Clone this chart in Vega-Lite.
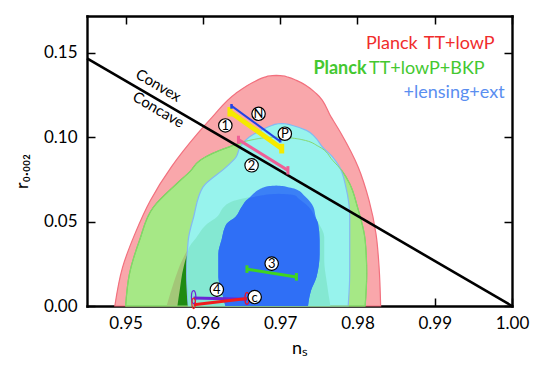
{
  "$schema": "https://vega.github.io/schema/vega-lite/v6.json",
  "width": 425,
  "height": 290,
  "autosize": "none",
  "padding": {"left": 87, "top": 16, "right": 34, "bottom": 63},
  "config": {
    "font": "Lato",
    "view": {"stroke": null},
    "axis": {
      "grid": false, "domainColor": "black", "domainWidth": 2.4, "domainCap": "square",
      "tickColor": "black", "tickWidth": 1.5, "tickSize": -8,
      "labelFont": "Lato", "labelFontSize": 17, "labelColor": "black", "labelFlush": false,
      "titleFont": "Lato", "titleFontSize": 18, "titleFontWeight": "normal", "titleColor": "black",
      "zindex": 1
    }
  },
  "datasets": {
    "red95": [
      {"r": 0, "lo": 0.9486, "hi": 0.9830},
      {"r": 0.0229, "lo": 0.9496, "hi": 0.9828},
      {"r": 0.0427, "lo": 0.9512, "hi": 0.9824},
      {"r": 0.0625, "lo": 0.9532, "hi": 0.9815},
      {"r": 0.0822, "lo": 0.9559, "hi": 0.9801},
      {"r": 0.102, "lo": 0.9593, "hi": 0.9779},
      {"r": 0.1118, "lo": 0.9612, "hi": 0.9766},
      {"r": 0.1257, "lo": 0.9642, "hi": 0.9747},
      {"r": 0.1336, "lo": 0.9670, "hi": 0.9721},
      {"r": 0.1355, "lo": 0.9680, "hi": 0.9710},
      {"r": 0.1362, "lo": 0.9687, "hi": 0.9703},
      {"r": 0.1365, "lo": 0.9695, "hi": 0.9695}
    ],
    "green95": [
      {"r": 0, "lo": 0.9500, "hi": 0.9810},
      {"r": 0.0192, "lo": 0.9505, "hi": 0.9812},
      {"r": 0.0389, "lo": 0.9518, "hi": 0.9810},
      {"r": 0.0586, "lo": 0.9536, "hi": 0.9800},
      {"r": 0.0724, "lo": 0.9566, "hi": 0.9790},
      {"r": 0.0800, "lo": 0.9584, "hi": 0.9780},
      {"r": 0.0862, "lo": 0.9596, "hi": 0.9768},
      {"r": 0.0944, "lo": 0.9635, "hi": 0.9750},
      {"r": 0.0985, "lo": 0.9665, "hi": 0.9728},
      {"r": 0.0995, "lo": 0.9678, "hi": 0.9714},
      {"r": 0.0999, "lo": 0.9688, "hi": 0.9704},
      {"r": 0.1000, "lo": 0.9696, "hi": 0.9696}
    ],
    "olive": [
      {"r": 0, "lo": 0.9553, "hi": 0.9765},
      {"r": 0.015, "lo": 0.9563, "hi": 0.9760},
      {"r": 0.027, "lo": 0.9573, "hi": 0.9757},
      {"r": 0.033, "lo": 0.9580, "hi": 0.9757},
      {"r": 0.0408, "lo": 0.9592, "hi": 0.9757},
      {"r": 0.0488, "lo": 0.9606, "hi": 0.9750},
      {"r": 0.0527, "lo": 0.9618, "hi": 0.9745},
      {"r": 0.0586, "lo": 0.9627, "hi": 0.9737},
      {"r": 0.0606, "lo": 0.9632, "hi": 0.9733},
      {"r": 0.064, "lo": 0.9655, "hi": 0.9723},
      {"r": 0.0655, "lo": 0.9677, "hi": 0.9719},
      {"r": 0.0662, "lo": 0.9686, "hi": 0.9710},
      {"r": 0.0665, "lo": 0.9698, "hi": 0.9698}
    ],
    "green68": [
      {"r": 0, "lo": 0.9567, "hi": 0.9640},
      {"r": 0.0093, "lo": 0.9570, "hi": 0.9640},
      {"r": 0.023, "lo": 0.9575, "hi": 0.9640},
      {"r": 0.033, "lo": 0.9582, "hi": 0.9640},
      {"r": 0.045, "lo": 0.9600, "hi": 0.9630},
      {"r": 0.05, "lo": 0.9615, "hi": 0.9615}
    ],
    "blue95": [
      {"r": 0, "lo": 0.9581, "hi": 0.9788},
      {"r": 0.0192, "lo": 0.9579, "hi": 0.9790},
      {"r": 0.0389, "lo": 0.9581, "hi": 0.9790},
      {"r": 0.0527, "lo": 0.9588, "hi": 0.9790},
      {"r": 0.0704, "lo": 0.9600, "hi": 0.9785},
      {"r": 0.0822, "lo": 0.9630, "hi": 0.9777},
      {"r": 0.0882, "lo": 0.9643, "hi": 0.9768},
      {"r": 0.094, "lo": 0.9648, "hi": 0.9755},
      {"r": 0.100, "lo": 0.9660, "hi": 0.9745},
      {"r": 0.104, "lo": 0.9675, "hi": 0.9734},
      {"r": 0.107, "lo": 0.9690, "hi": 0.9715},
      {"r": 0.1077, "lo": 0.9695, "hi": 0.9709},
      {"r": 0.1079, "lo": 0.9698, "hi": 0.9706},
      {"r": 0.108, "lo": 0.9702, "hi": 0.9702}
    ],
    "mint": [
      {"r": 0, "lo": 0.9581, "hi": 0.9765},
      {"r": 0.015, "lo": 0.9580, "hi": 0.9760},
      {"r": 0.027, "lo": 0.9580, "hi": 0.9757},
      {"r": 0.033, "lo": 0.9581, "hi": 0.9757},
      {"r": 0.0408, "lo": 0.9592, "hi": 0.9757},
      {"r": 0.0488, "lo": 0.9606, "hi": 0.9750},
      {"r": 0.0527, "lo": 0.9618, "hi": 0.9745},
      {"r": 0.0586, "lo": 0.9627, "hi": 0.9737},
      {"r": 0.0606, "lo": 0.9632, "hi": 0.9733},
      {"r": 0.064, "lo": 0.9655, "hi": 0.9723},
      {"r": 0.0655, "lo": 0.9677, "hi": 0.9719},
      {"r": 0.0662, "lo": 0.9686, "hi": 0.9710},
      {"r": 0.0665, "lo": 0.9698, "hi": 0.9698}
    ],
    "blue68": [
      {"r": 0, "lo": 0.9629, "hi": 0.9736},
      {"r": 0.0093, "lo": 0.9624, "hi": 0.9740},
      {"r": 0.0172, "lo": 0.9620, "hi": 0.9747},
      {"r": 0.031, "lo": 0.9620, "hi": 0.9751},
      {"r": 0.0389, "lo": 0.9624, "hi": 0.9751},
      {"r": 0.0488, "lo": 0.9631, "hi": 0.9749},
      {"r": 0.0527, "lo": 0.9642, "hi": 0.9746},
      {"r": 0.0586, "lo": 0.9650, "hi": 0.9743},
      {"r": 0.065, "lo": 0.9662, "hi": 0.9732},
      {"r": 0.0695, "lo": 0.9675, "hi": 0.9718},
      {"r": 0.0705, "lo": 0.9680, "hi": 0.9709},
      {"r": 0.0711, "lo": 0.9686, "hi": 0.9703},
      {"r": 0.0714, "lo": 0.9695, "hi": 0.9695}
    ],
    "blue68x": [
      {"r": 0, "lo": 0.9629, "hi": 0.9736},
      {"r": 0.0093, "lo": 0.9624, "hi": 0.9740},
      {"r": 0.0172, "lo": 0.9620, "hi": 0.9747},
      {"r": 0.031, "lo": 0.9620, "hi": 0.9751},
      {"r": 0.0389, "lo": 0.9624, "hi": 0.9751},
      {"r": 0.0488, "lo": 0.9631, "hi": 0.9749},
      {"r": 0.0527, "lo": 0.9642, "hi": 0.9745},
      {"r": 0.0586, "lo": 0.9650, "hi": 0.9737},
      {"r": 0.064, "lo": 0.9660, "hi": 0.9723},
      {"r": 0.0655, "lo": 0.9677, "hi": 0.9719},
      {"r": 0.0662, "lo": 0.9686, "hi": 0.9710},
      {"r": 0.0665, "lo": 0.9698, "hi": 0.9698}
    ],
    "convex": [
      {"ns": 0.945, "r": 0.14667},
      {"ns": 1.0, "r": 0}
    ],
    "convexLabels": [
      {"ns": 0.95425, "r": 0.1306, "label": "Convex"},
      {"ns": 0.95425, "r": 0.1162, "label": "Concave"}
    ],
    "segYellow": [
      {"model": "1", "x": 0.9635, "y": 0.1150, "x2": 0.9702, "y2": 0.0933}
    ],
    "segN": [
      {"model": "N", "x": 0.9637, "y": 0.1185, "x2": 0.9700, "y2": 0.0975}
    ],
    "segOther": [
      {"model": "2", "x": 0.9646, "y": 0.0985, "x2": 0.9710, "y2": 0.0803},
      {"model": "3", "x": 0.9657, "y": 0.0218, "x2": 0.9721, "y2": 0.0172},
      {"model": "4", "x": 0.9588, "y": 0.0047, "x2": 0.9657, "y2": 0.0040},
      {"model": "C", "x": 0.9588, "y": 0.0008, "x2": 0.9657, "y2": 0.0044}
    ],
    "capsYellow": [
      {"model": "1", "x": 0.9635, "ylo": 0.1122, "yhi": 0.1178},
      {"model": "1", "x": 0.9702, "ylo": 0.0903, "yhi": 0.0960}
    ],
    "capsN": [
      {"model": "N", "x": 0.9637, "ylo": 0.1168, "yhi": 0.1196},
      {"model": "N", "x": 0.9700, "ylo": 0.0968, "yhi": 0.1000}
    ],
    "capsOther": [
      {"model": "2", "x": 0.9646, "ylo": 0.0960, "yhi": 0.1008},
      {"model": "2", "x": 0.9710, "ylo": 0.0779, "yhi": 0.0828},
      {"model": "3", "x": 0.9657, "ylo": 0.0196, "yhi": 0.0241},
      {"model": "3", "x": 0.9721, "ylo": 0.0150, "yhi": 0.0195}
    ],
    "ends": [
      {"model": "4", "x": 0.9588, "y": 0.0053, "end": "a"},
      {"model": "4", "x": 0.9657, "y": 0.0043, "end": "b"},
      {"model": "C", "x": 0.9657, "y": 0.0046, "end": "b"},
      {"model": "C", "x": 0.9588, "y": 0.0016, "end": "c"}
    ],
    "circles": [
      {"ns": 0.9629, "r": 0.1069, "label": "1"},
      {"ns": 0.9672, "r": 0.1138, "label": "N"},
      {"ns": 0.9706, "r": 0.1020, "label": "P"},
      {"ns": 0.9663, "r": 0.0833, "label": "2"},
      {"ns": 0.9689, "r": 0.0251, "label": "3"},
      {"ns": 0.9618, "r": 0.0097, "label": "4"},
      {"ns": 0.9667, "r": 0.0053, "label": "c"}
    ],
    "legendRed": [
      {"x": 0.9878, "y": 0.1523, "label": "Planck"},
      {"x": 0.99775, "y": 0.1523, "label": "TT+lowP"}
    ],
    "legendGreen": [
      {"x": 0.99646, "y": 0.1375, "label": "TT+lowP+BKP"}
    ],
    "legendGreenBold": [
      {"x": 0.98118, "y": 0.1375, "label": "Planck"}
    ],
    "legendBlue": [
      {"x": 0.99904, "y": 0.1233, "label": "+lensing+ext"}
    ]
  },
  "resolve": {"axis": {"x": "independent", "y": "independent"}},
  "layer": [
    {
      "layer": [
        {
          "data": {"name": "red95"},
          "mark": {"type": "area", "orient": "horizontal", "interpolate": "monotone", "fill": "#f9a7ab", "stroke": "#f2707e", "strokeWidth": 1.2},
          "encoding": {
            "y": {"field": "r", "type": "quantitative", "scale": {"domain": [0, 0.1717], "nice": false, "zero": false},
                  "axis": {"title": "r₀.₀₀₂", "values": [0, 0.05, 0.1, 0.15], "format": ".2f", "labelPadding": 18, "titlePadding": 12, "titleY": 155}},
            "x": {"field": "lo", "type": "quantitative", "scale": {"domain": [0.945, 1.0], "nice": false, "zero": false},
                  "axis": {"title": "nₛ", "values": [0.95, 0.96, 0.97, 0.98, 0.99, 1.0], "format": ".2f", "labelPadding": 17, "titlePadding": 8}},
            "x2": {"field": "hi"}
          }
        },
        {
          "data": {"name": "green95"},
          "mark": {"type": "area", "orient": "horizontal", "interpolate": "monotone", "fill": "#a6e886", "stroke": "#74d153", "strokeWidth": 1.2},
          "encoding": {"y": {"field": "r", "type": "quantitative"}, "x": {"field": "lo", "type": "quantitative"}, "x2": {"field": "hi"}}
        },
        {
          "data": {"name": "olive"},
          "mark": {"type": "area", "orient": "horizontal", "interpolate": "monotone", "fill": "#a3c778"},
          "encoding": {"y": {"field": "r", "type": "quantitative"}, "x": {"field": "lo", "type": "quantitative"}, "x2": {"field": "hi"}}
        },
        {
          "data": {"name": "green68"},
          "mark": {"type": "area", "orient": "horizontal", "interpolate": "monotone", "fill": "#1f8b12"},
          "encoding": {"y": {"field": "r", "type": "quantitative"}, "x": {"field": "lo", "type": "quantitative"}, "x2": {"field": "hi"}}
        },
        {
          "data": {"name": "blue95"},
          "mark": {"type": "area", "orient": "horizontal", "interpolate": "monotone", "fill": "#97f3ed", "stroke": "#84b9f2", "strokeWidth": 1.2},
          "encoding": {"y": {"field": "r", "type": "quantitative"}, "x": {"field": "lo", "type": "quantitative"}, "x2": {"field": "hi"}}
        },
        {
          "data": {"name": "green95"},
          "mark": {"type": "area", "orient": "horizontal", "interpolate": "monotone", "fill": null, "fillOpacity": 0, "stroke": "#86d870", "strokeWidth": 1},
          "encoding": {"y": {"field": "r", "type": "quantitative"}, "x": {"field": "lo", "type": "quantitative"}, "x2": {"field": "hi"}}
        },
        {
          "data": {"name": "mint"},
          "mark": {"type": "area", "orient": "horizontal", "interpolate": "monotone", "fill": "#84e8d2"},
          "encoding": {"y": {"field": "r", "type": "quantitative"}, "x": {"field": "lo", "type": "quantitative"}, "x2": {"field": "hi"}}
        },
        {
          "data": {"name": "blue68"},
          "mark": {"type": "area", "orient": "horizontal", "interpolate": "monotone", "fill": "#3b80f6"},
          "encoding": {"y": {"field": "r", "type": "quantitative"}, "x": {"field": "lo", "type": "quantitative"}, "x2": {"field": "hi"}}
        },
        {
          "data": {"name": "blue68x"},
          "mark": {"type": "area", "orient": "horizontal", "interpolate": "monotone", "fill": "#2f6ff6"},
          "encoding": {"y": {"field": "r", "type": "quantitative"}, "x": {"field": "lo", "type": "quantitative"}, "x2": {"field": "hi"}}
        },
        {
          "data": {"name": "convex"},
          "mark": {"type": "line", "color": "black", "strokeWidth": 2.6},
          "encoding": {"x": {"field": "ns", "type": "quantitative"}, "y": {"field": "r", "type": "quantitative"}}
        },
        {
          "data": {"name": "convexLabels"},
          "mark": {"type": "text", "angle": 30.2, "fontSize": 15, "font": "Lato", "color": "black", "align": "center", "baseline": "middle"},
          "encoding": {"x": {"field": "ns", "type": "quantitative"}, "y": {"field": "r", "type": "quantitative"}, "text": {"field": "label"}}
        },
        {
          "data": {"name": "segYellow"},
          "mark": {"type": "rule", "color": "#f5ea00", "strokeWidth": 5},
          "encoding": {"x": {"field": "x", "type": "quantitative"}, "y": {"field": "y", "type": "quantitative"}, "x2": {"field": "x2"}, "y2": {"field": "y2"}}
        },
        {
          "data": {"name": "capsYellow"},
          "mark": {"type": "rule", "color": "#f5ea00", "strokeWidth": 5},
          "encoding": {"x": {"field": "x", "type": "quantitative"}, "y": {"field": "ylo", "type": "quantitative"}, "y2": {"field": "yhi"}}
        },
        {
          "data": {"name": "segN"},
          "mark": {"type": "rule", "color": "#2244e6", "strokeWidth": 2},
          "encoding": {"x": {"field": "x", "type": "quantitative"}, "y": {"field": "y", "type": "quantitative"}, "x2": {"field": "x2"}, "y2": {"field": "y2"}}
        },
        {
          "data": {"name": "capsN"},
          "mark": {"type": "rule", "color": "#2244e6", "strokeWidth": 2.5},
          "encoding": {"x": {"field": "x", "type": "quantitative"}, "y": {"field": "ylo", "type": "quantitative"}, "y2": {"field": "yhi"}}
        },
        {
          "data": {"name": "segOther"},
          "mark": {"type": "rule", "strokeWidth": 3},
          "encoding": {
            "x": {"field": "x", "type": "quantitative"}, "y": {"field": "y", "type": "quantitative"},
            "x2": {"field": "x2"}, "y2": {"field": "y2"},
            "color": {"field": "model", "type": "nominal", "scale": {"domain": ["2", "3", "4", "C"], "range": ["#ef5f96", "#3fd41f", "#6b24d6", "#f01c1c"]}, "legend": null}
          }
        },
        {
          "data": {"name": "capsOther"},
          "mark": {"type": "rule", "strokeWidth": 3},
          "encoding": {
            "x": {"field": "x", "type": "quantitative"}, "y": {"field": "ylo", "type": "quantitative"}, "y2": {"field": "yhi"},
            "color": {"field": "model", "type": "nominal", "legend": null}
          }
        },
        {
          "data": {"name": "ends"},
          "mark": {"type": "point", "filled": false, "strokeWidth": 1.2, "opacity": 1, "shape": "M0,-1C0.45,-1 0.45,1 0,1C-0.45,1 -0.45,-1 0,-1Z"},
          "encoding": {
            "x": {"field": "x", "type": "quantitative"}, "y": {"field": "y", "type": "quantitative"},
            "color": {"field": "model", "type": "nominal", "legend": null},
            "size": {"field": "end", "type": "nominal", "scale": {"domain": ["a", "b", "c"], "range": [170, 110, 40]}, "legend": null}
          }
        },
        {
          "data": {"name": "circles"},
          "mark": {"type": "point", "shape": "circle", "size": 180, "filled": true, "fill": "white", "stroke": "black", "strokeWidth": 1.2, "opacity": 1},
          "encoding": {"x": {"field": "ns", "type": "quantitative"}, "y": {"field": "r", "type": "quantitative"}}
        },
        {
          "data": {"name": "circles"},
          "mark": {"type": "text", "fontSize": 13, "font": "Lato", "color": "black", "align": "center", "baseline": "middle", "dy": 0.5},
          "encoding": {"x": {"field": "ns", "type": "quantitative"}, "y": {"field": "r", "type": "quantitative"}, "text": {"field": "label"}}
        },
        {
          "data": {"name": "legendRed"},
          "mark": {"type": "text", "fontSize": 18, "font": "Lato", "color": "#f02c2c", "align": "right", "baseline": "alphabetic"},
          "encoding": {"x": {"field": "x", "type": "quantitative"}, "y": {"field": "y", "type": "quantitative"}, "text": {"field": "label"}}
        },
        {
          "data": {"name": "legendGreen"},
          "mark": {"type": "text", "fontSize": 18, "font": "Lato", "color": "#44c830", "align": "right", "baseline": "alphabetic"},
          "encoding": {"x": {"field": "x", "type": "quantitative"}, "y": {"field": "y", "type": "quantitative"}, "text": {"field": "label"}}
        },
        {
          "data": {"name": "legendGreenBold"},
          "mark": {"type": "text", "fontSize": 18, "font": "Lato", "fontWeight": "bold", "color": "#44c830", "align": "right", "baseline": "alphabetic"},
          "encoding": {"x": {"field": "x", "type": "quantitative"}, "y": {"field": "y", "type": "quantitative"}, "text": {"field": "label"}}
        },
        {
          "data": {"name": "legendBlue"},
          "mark": {"type": "text", "fontSize": 18, "font": "Lato", "color": "#5a8ef0", "align": "right", "baseline": "alphabetic"},
          "encoding": {"x": {"field": "x", "type": "quantitative"}, "y": {"field": "y", "type": "quantitative"}, "text": {"field": "label"}}
        }
      ]
    },
    {
      "data": {"name": "convex"},
      "mark": {"type": "line", "opacity": 0},
      "encoding": {
        "x": {"field": "ns", "type": "quantitative", "scale": {"domain": [0.945, 1.0], "nice": false, "zero": false},
              "axis": {"orient": "top", "labels": false, "title": null, "values": [0.95, 0.96, 0.97, 0.98, 0.99, 1.0]}},
        "y": {"field": "r", "type": "quantitative", "scale": {"domain": [0, 0.1717], "nice": false, "zero": false},
              "axis": {"orient": "right", "labels": false, "title": null, "values": [0, 0.05, 0.1, 0.15]}}
      }
    }
  ]
}
